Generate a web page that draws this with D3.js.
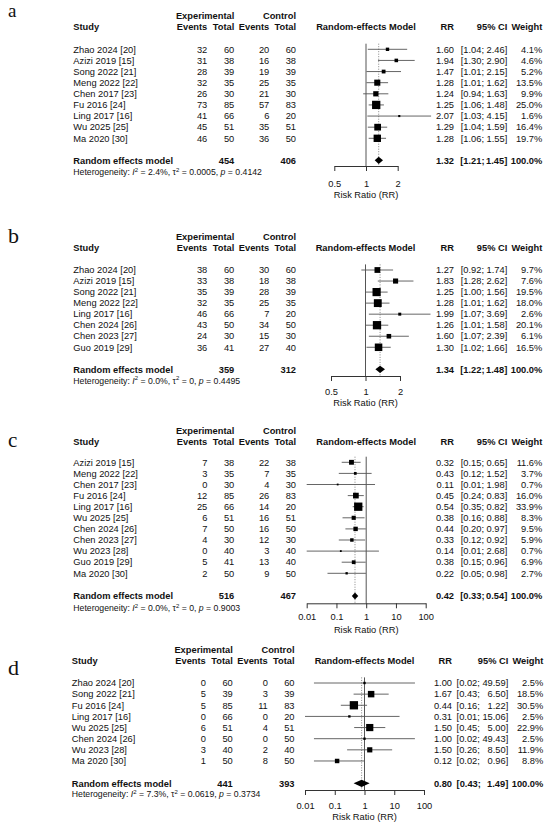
<!DOCTYPE html>
<html>
<head>
<meta charset="utf-8">
<script src="https://cdn.jsdelivr.net/npm/d3@7"></script>
<style>
  body { margin: 0; background: #fff; }
  svg text { font-family: "Liberation Sans", Arial, Helvetica, sans-serif; fill: #111; white-space: pre; }
</style>
</head>
<body>
<svg id="chart" width="550" height="827"></svg>
<script>
// ---- data: panel a
var studiesA = ["Zhao 2024 [20]", "Azizi 2019 [15]", "Song 2022 [21]", "Meng 2022 [22]", "Chen 2017 [23]",
                "Fu 2016 [24]", "Ling 2017 [16]", "Wu 2025 [25]", "Ma 2020 [30]"];
var expA = [[32, 60], [31, 38], [28, 39], [32, 35], [26, 30], [73, 85], [41, 66], [45, 51], [46, 50]];
var ctrlA = [[20, 60], [16, 38], [19, 39], [25, 35], [21, 30], [57, 83], [6, 20], [35, 51], [36, 50]];
var rrA = [[1.60, 1.04, 2.46], [1.94, 1.30, 2.90], [1.47, 1.01, 2.15], [1.28, 1.01, 1.62], [1.24, 0.94, 1.63],
           [1.25, 1.06, 1.48], [2.07, 1.03, 4.15], [1.29, 1.04, 1.59], [1.28, 1.06, 1.55]];
var weightA = [4.1, 4.6, 5.2, 13.5, 9.9, 25.0, 1.6, 16.4, 19.7];
var totalsA = [454, 406];
var pooledA = [1.32, 1.21, 1.45];
var hetA = ["2.4%", "0.0005", "0.4142"];

// ---- data: panel b
var studiesB = ["Zhao 2024 [20]", "Azizi 2019 [15]", "Song 2022 [21]", "Meng 2022 [22]", "Ling 2017 [16]",
                "Chen 2024 [26]", "Chen 2023 [27]", "Guo 2019 [29]"];
var expB = [[38, 60], [33, 38], [35, 39], [32, 35], [46, 66], [43, 50], [24, 30], [36, 41]];
var ctrlB = [[30, 60], [18, 38], [28, 39], [25, 35], [7, 20], [34, 50], [15, 30], [27, 40]];
var rrB = [[1.27, 0.92, 1.74], [1.83, 1.28, 2.62], [1.25, 1.00, 1.56], [1.28, 1.01, 1.62], [1.99, 1.07, 3.69],
           [1.26, 1.01, 1.58], [1.60, 1.07, 2.39], [1.30, 1.02, 1.66]];
var weightB = [9.7, 7.6, 19.5, 18.0, 2.6, 20.1, 6.1, 16.5];
var totalsB = [359, 312];
var pooledB = [1.34, 1.22, 1.48];
var hetB = ["0.0%", "0", "0.4495"];

// ---- data: panel c
var studiesC = ["Azizi 2019 [15]", "Meng 2022 [22]", "Chen 2017 [23]", "Fu 2016 [24]", "Ling 2017 [16]",
                "Wu 2025 [25]", "Chen 2024 [26]", "Chen 2023 [27]", "Wu 2023 [28]", "Guo 2019 [29]", "Ma 2020 [30]"];
var expC = [[7, 38], [3, 35], [0, 30], [12, 85], [25, 66], [6, 51], [7, 50], [4, 30], [0, 40], [5, 41], [2, 50]];
var ctrlC = [[22, 38], [7, 35], [4, 30], [26, 83], [14, 20], [16, 51], [16, 50], [12, 30], [3, 40], [13, 40], [9, 50]];
var rrC = [[0.32, 0.15, 0.65], [0.43, 0.12, 1.52], [0.11, 0.01, 1.98], [0.45, 0.24, 0.83], [0.54, 0.35, 0.82],
           [0.38, 0.16, 0.88], [0.44, 0.20, 0.97], [0.33, 0.12, 0.92], [0.14, 0.01, 2.68], [0.38, 0.15, 0.96],
           [0.22, 0.05, 0.98]];
var weightC = [11.6, 3.7, 0.7, 16.0, 33.9, 8.3, 9.5, 5.9, 0.7, 6.9, 2.7];
var totalsC = [516, 467];
var pooledC = [0.42, 0.33, 0.54];
var hetC = ["0.0%", "0", "0.9003"];

// ---- data: panel d
var studiesD = ["Zhao 2024 [20]", "Song 2022 [21]", "Fu 2016 [24]", "Ling 2017 [16]", "Wu 2025 [25]",
                "Chen 2024 [26]", "Wu 2023 [28]", "Ma 2020 [30]"];
var expD = [[0, 60], [5, 39], [5, 85], [0, 66], [6, 51], [0, 50], [3, 40], [1, 50]];
var ctrlD = [[0, 60], [3, 39], [11, 83], [0, 20], [4, 51], [0, 50], [2, 40], [8, 50]];
var rrD = [[1.00, 0.02, 49.59], [1.67, 0.43, 6.50], [0.44, 0.16, 1.22], [0.31, 0.01, 15.06], [1.50, 0.45, 5.00],
           [1.00, 0.02, 49.43], [1.50, 0.26, 8.50], [0.12, 0.02, 0.96]];
var weightD = [2.5, 18.5, 30.5, 2.5, 22.9, 2.5, 11.9, 8.8];
var totalsD = [441, 393];
var pooledD = [0.80, 0.43, 1.49];
var hetD = ["7.3%", "0.0619", "0.3734"];

// axis ticks
var ticksSmall = [0.5, 1, 2];
var tickLabelsSmall = ["0.5", "1", "2"];
var ticksWide = [0.01, 0.1, 1, 10, 100];
var tickLabelsWide = ["0.01", "0.1", "1", "10", "100"];

var FS = 9.3;
var f2 = d3.format(".2f");
var f1 = d3.format(".1f");
var svg = d3.select("#chart");

var panels = [
  {letter: "a", letterSize: 19, letterY: 17, h1: 16, row0: 49.3, step: 11.125, sumY: 160.3, hetY: 172.3,
   axisY: 166, labY: 183.3, xlabY: 195, domain: [0.5, 2], range: [334.3, 397.7], dxL: 0, dxRR: 0, dxR: 0,
   studies: studiesA, exp: expA, ctrl: ctrlA, rr: rrA, weight: weightA, totals: totalsA, pooled: pooledA, het: hetA,
   ticks: ticksSmall, tickLabels: tickLabelsSmall},
  {letter: "b", letterSize: 22, letterY: 243, h1: 236.7, row0: 270, step: 11.04, sumY: 369.3, hetY: 380.7,
   axisY: 376, labY: 391.7, xlabY: 402.5, domain: [0.5, 2], range: [331, 400], dxL: 0, dxRR: 0, dxR: 0,
   studies: studiesB, exp: expB, ctrl: ctrlB, rr: rrB, weight: weightB, totals: totalsB, pooled: pooledB, het: hetB,
   ticks: ticksSmall, tickLabels: tickLabelsSmall},
  {letter: "c", letterSize: 21, letterY: 447, h1: 430.7, row0: 462.3, step: 11.1, sumY: 596, hetY: 608.3,
   axisY: 603.3, labY: 616.7, xlabY: 630, domain: [0.01, 100], range: [306.7, 425.7], dxL: 0, dxRR: 0, dxR: 0,
   studies: studiesC, exp: expC, ctrl: ctrlC, rr: rrC, weight: weightC, totals: totalsC, pooled: pooledC, het: hetC,
   ticks: ticksWide, tickLabels: tickLabelsWide},
  {letter: "d", letterSize: 22, letterY: 675, h1: 650, row0: 683, step: 11.14, sumY: 783.3, hetY: 794.3,
   axisY: 790, labY: 805.7, xlabY: 816.7, domain: [0.01, 100], range: [305, 424], dxL: -1.5, dxRR: -2, dxR: 1,
   studies: studiesD, exp: expD, ctrl: ctrlD, rr: rrD, weight: weightD, totals: totalsD, pooled: pooledD, het: hetD,
   ticks: ticksWide, tickLabels: tickLabelsWide}
];

function label(g, x, y, s, anchor, bold, size) {
  return g.append("text")
    .attr("x", x).attr("y", y).attr("dy", "0.35em")
    .attr("text-anchor", anchor || "start")
    .attr("font-weight", bold ? "bold" : null)
    .attr("font-size", size || FS)
    .text(s);
}

function drawPanel(p) {
  var g = svg.append("g");
  var x = d3.scaleLog().domain(p.domain).range(p.range);
  var L = p.dxL, R = p.dxR;
  var col = {study: 73.3 + L, expEv: 207.3 + L, expTot: 234.3 + L, ctlEv: 269.3 + L, ctlTot: 296 + L,
             rr: 454 + p.dxRR, ci: 507.3 + R, w: 542.3 + R};
  var rowY = function(i) { return p.row0 + i * p.step; };
  var h2 = p.h1 + 10.8;

  // panel letter
  g.append("text")
    .attr("x", 8).attr("y", p.letterY)
    .style("font-family", '"Liberation Serif", "Times New Roman", serif')
    .attr("font-size", p.letterSize)
    .text(p.letter);

  // column headers
  label(g, col.expTot, p.h1, "Experimental", "end", true);
  label(g, col.ctlTot, p.h1, "Control", "end", true);
  label(g, col.study, h2, "Study", "start", true);
  label(g, col.expEv, h2, "Events", "end", true);
  label(g, col.expTot, h2, "Total", "end", true);
  label(g, col.ctlEv, h2, "Events", "end", true);
  label(g, col.ctlTot, h2, "Total", "end", true);
  label(g, x(1), h2, "Random-effects Model", "middle", true);
  label(g, col.rr, h2, "RR", "end", true);
  label(g, col.ci, h2, "95% CI", "end", true);
  label(g, col.w, h2, "Weight", "end", true);

  // study rows
  var uppers = [];
  p.studies.forEach(function(s, i) {
    var y = rowY(i);
    label(g, col.study, y, s);
    label(g, col.expEv, y, p.exp[i][0], "end");
    label(g, col.expTot, y, p.exp[i][1], "end");
    label(g, col.ctlEv, y, p.ctrl[i][0], "end");
    label(g, col.ctlTot, y, p.ctrl[i][1], "end");
    label(g, col.rr, y, f2(p.rr[i][0]), "end");
    uppers.push(label(g, col.ci, y, f2(p.rr[i][2]) + "]", "end"));
    label(g, col.w, y, f1(p.weight[i]) + "%", "end");
  });

  // pooled row
  label(g, col.study, p.sumY, "Random effects model", "start", true);
  label(g, col.expTot, p.sumY, p.totals[0], "end", true);
  label(g, col.ctlTot, p.sumY, p.totals[1], "end", true);
  label(g, col.rr, p.sumY, f2(p.pooled[0]), "end", true);
  var sumUpper = label(g, col.ci, p.sumY, f2(p.pooled[2]) + "]", "end", true);
  label(g, col.w, p.sumY, "100.0%", "end", true);

  // lower CI bounds, aligned so the brackets line up
  var maxW = d3.max(uppers, function(t) { return t.node().getComputedTextLength(); });
  var lowX = col.ci - maxW - FS * 0.28;
  p.rr.forEach(function(d, i) { label(g, lowX, rowY(i), "[" + f2(d[1]) + ";", "end"); });
  var sumLowX = col.ci - Math.max(maxW, sumUpper.node().getComputedTextLength()) - FS * 0.28 + 1;
  label(g, sumLowX, p.sumY, "[" + f2(p.pooled[1]) + ";", "end", true);

  // heterogeneity line
  var het = g.append("text").attr("x", col.study).attr("y", p.hetY).attr("dy", "0.35em").attr("font-size", 8.7);
  het.append("tspan").text("Heterogeneity: ");
  het.append("tspan").attr("font-style", "italic").text("I");
  het.append("tspan").attr("dy", -3.4).attr("font-size", 6).text("2");
  het.append("tspan").attr("dy", 3.4).text(" = " + p.het[0] + ", ");
  het.append("tspan").text("\u03c4");
  het.append("tspan").attr("dy", -3.4).attr("font-size", 6).text("2");
  het.append("tspan").attr("dy", 3.4).text(" = " + p.het[1] + ", ");
  het.append("tspan").attr("font-style", "italic").text("p");
  het.append("tspan").text(" = " + p.het[2]);

  // reference line at 1 and dotted line at pooled estimate
  var top = p.row0 - 5.6;
  g.append("line")
    .attr("x1", x(1)).attr("x2", x(1)).attr("y1", top).attr("y2", p.axisY)
    .attr("stroke", "#555").attr("stroke-width", 1);
  g.append("line")
    .attr("x1", x(p.pooled[0])).attr("x2", x(p.pooled[0])).attr("y1", top).attr("y2", p.axisY)
    .attr("stroke", "#777").attr("stroke-width", 0.9).attr("stroke-dasharray", "1,1.5");

  // confidence intervals
  g.selectAll(".ci").data(p.rr).join("line")
    .attr("class", "ci")
    .attr("x1", function(d) { return x(d[1]); })
    .attr("x2", function(d) { return x(d[2]); })
    .attr("y1", function(d, i) { return rowY(i); })
    .attr("y2", function(d, i) { return rowY(i); })
    .attr("stroke", "#555").attr("stroke-width", 0.9);

  // squares, area by weight
  var side = d3.scaleSqrt().domain([0, d3.max(p.weight)]).range([0, 8.3]);
  var sz = function(i) { return Math.max(side(p.weight[i]), 1.8); };
  g.selectAll(".sq").data(p.rr).join("rect")
    .attr("class", "sq")
    .attr("x", function(d, i) { return x(d[0]) - sz(i) / 2; })
    .attr("y", function(d, i) { return rowY(i) - sz(i) / 2; })
    .attr("width", function(d, i) { return sz(i); })
    .attr("height", function(d, i) { return sz(i); })
    .attr("fill", "#000");

  // pooled diamond
  var dm = [[x(p.pooled[1]), p.sumY], [x(p.pooled[0]), p.sumY - 3.6],
            [x(p.pooled[2]), p.sumY], [x(p.pooled[0]), p.sumY + 3.6]];
  g.append("path")
    .attr("d", d3.line()(dm) + "Z")
    .attr("fill", "#000");

  // x axis
  var ax = g.append("g")
    .attr("transform", "translate(0," + p.axisY + ")")
    .call(d3.axisBottom(x)
      .tickValues(p.ticks)
      .tickFormat(function(d) { return p.tickLabels[p.ticks.indexOf(d)]; })
      .tickSize(5).tickSizeOuter(0)
      .tickPadding(p.labY - p.axisY - 8.3));
  ax.attr("font-size", FS).attr("color", "#333");
  ax.selectAll("text").attr("font-size", FS);

  label(g, (p.range[0] + p.range[1]) / 2, p.xlabY, "Risk Ratio (RR)", "middle");
}

panels.forEach(drawPanel);
</script>
</body>
</html>
